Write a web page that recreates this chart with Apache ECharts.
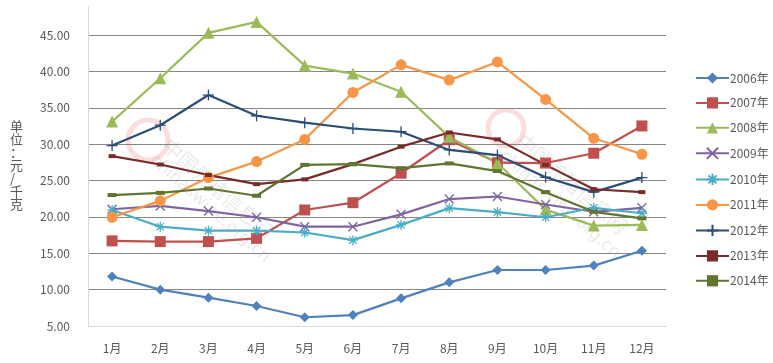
<!DOCTYPE html>
<html><head><meta charset="utf-8">
<script src="https://cdn.jsdelivr.net/npm/echarts@6/dist/echarts.min.js"></script>
<style>html,body{margin:0;padding:0;background:#fff}#c{width:773px;height:363px}</style>
</head><body><div id="c"></div>
<script>
const categories = ['1月','2月','3月','4月','5月','6月','7月','8月','9月','10月','11月','12月'];
const yTicks = [5, 10, 15, 20, 25, 30, 35, 40, 45];
const yAxisTitle = '单位：元/千克';
const names = ['2006年','2007年','2008年','2009年','2010年','2011年','2012年','2013年','2014年'];
const s2006 = [11.8, 10.0, 8.9, 7.75, 6.2, 6.5, 8.8, 11.0, 12.7, 12.7, 13.3, 15.35];
const s2007 = [16.7, 16.6, 16.6, 17.05, 20.95, 21.95, 26.0, 30.6, 27.45, 27.4, 28.75, 32.5];
const s2008 = [33.1, 39.05, 45.3, 46.8, 40.8, 39.7, 37.2, 31.0, 27.4, 21.0, 18.8, 18.9];
const s2009 = [21.05, 21.5, 20.8, 19.95, 18.65, 18.65, 20.35, 22.45, 22.8, 21.7, 20.7, 21.25];
const s2010 = [20.95, 18.65, 18.1, 18.1, 17.85, 16.8, 18.9, 21.2, 20.65, 19.95, 21.25, 20.5];
const s2011 = [19.95, 22.2, 25.4, 27.6, 30.65, 37.1, 40.9, 38.8, 41.3, 36.15, 30.8, 28.6];
const s2012 = [29.8, 32.6, 36.75, 33.9, 32.95, 32.15, 31.7, 29.2, 28.5, 25.45, 23.4, 25.4];
const s2013 = [28.35, 27.2, 25.75, 24.5, 25.15, 27.25, 29.65, 31.6, 30.65, 27.15, 23.8, 23.4];
const s2014 = [23.0, 23.3, 23.9, 22.9, 27.15, 27.25, 26.7, 27.35, 26.3, 23.4, 20.7, 19.8];
const seriesData = [s2006, s2007, s2008, s2009, s2010, s2011, s2012, s2013, s2014];

const colors = ['#4F81BD','#C0504D','#9BBB59','#8064A2','#4BACC6','#F79646','#2C4D75','#772C2A','#5F7530'];
const symbols = [
  'diamond', 'rect', 'triangle',
  'path://M0,0L10,10M10,0L0,10',
  'path://M0,0L10,10M10,0L0,10M5,-2L5,12M-2,5L12,5',
  'circle',
  'path://M5,0L5,10M0,5L10,5',
  'rect', 'rect'
];
const symbolSizes = [10, 11, 12, 9, 10, 11, 11, [7,4], [9,4]];
const emptyStroke = [false,false,false,true,true,false,true,false,false];

const chart = echarts.init(document.getElementById('c'), null, {renderer:'canvas'});
const series = names.map((n, i) => ({
  name: n, type: 'line', data: seriesData[i],
  symbol: symbols[i], symbolSize: symbolSizes[i], showAllSymbol: true,
  lineStyle: {color: colors[i], width: 2.2},
  itemStyle: emptyStroke[i] ? {color: 'rgba(0,0,0,0)', borderColor: colors[i], borderWidth: 1.3} : {color: colors[i], borderWidth: 0},
  emphasis: {disabled: true}, animation: false
}));

const wmFill = 'rgba(150,150,150,0.2)';
chart.setOption({
  animation: false,
  color: colors,
  textStyle: {fontFamily: '"Noto Sans CJK SC", "Noto Sans", sans-serif'},
  grid: {left: 88, right: 107, top: 7, bottom: 37, containLabel: false},
  legend: {
    orient: 'vertical', left: 690, top: 67, itemGap: 12.9, itemWidth: 33, itemHeight: 14,
    data: names,
    textStyle: {color: '#595959', fontSize: 12, padding: [0,0,0,-4]},
    selectedMode: false
  },
  xAxis: {
    type: 'category', data: categories, boundaryGap: true,
    axisLine: {show: true, lineStyle: {color: '#D9D9D9', width: 1}},
    axisTick: {show: false},
    axisLabel: {color: '#595959', fontSize: 12, margin: 16}
  },
  yAxis: {
    type: 'value', min: 5, max: 48.85, interval: 5,
    axisLine: {show: true, lineStyle: {color: '#D9D9D9', width: 1}},
    axisTick: {show: false},
    axisLabel: {color: '#595959', fontSize: 12, margin: 18, showMaxLabel: false,
      formatter: v => yTicks.indexOf(v) >= 0 ? v.toFixed(2) : ''},
    splitLine: {show: true, showMinLine: false, showMaxLine: false, lineStyle: {color: '#868686', width: 1}}
  },
  graphic: [
    {type: 'text', left: 10, top: 120, style: {text: yAxisTitle.split('').join('\n'), fill: '#595959', fontSize: 13, lineHeight: 12.9, fontFamily: '"Noto Sans CJK SC", sans-serif', align: 'center'}},
    {type: 'circle', shape: {cx: 148, cy: 140, r: 20}, z: -1, style: {fill: 'none', stroke: 'rgba(240,120,120,0.25)', lineWidth: 5}},
    {type: 'circle', shape: {cx: 506, cy: 128, r: 18}, z: -1, style: {fill: 'none', stroke: 'rgba(240,120,120,0.25)', lineWidth: 5}},
    {type: 'text', x: 172, y: 135, rotation: -0.72, z: -1, style: {text: '中国养猪信息网', fill: wmFill, fontSize: 20, fontFamily: '"Noto Sans CJK SC", sans-serif'}},
    {type: 'text', x: 158, y: 152, rotation: -0.72, z: -1, style: {text: 'chinaswine.org.cn', fill: wmFill, fontSize: 17, fontFamily: '"DejaVu Sans", sans-serif'}},
    {type: 'text', x: 526, y: 130, rotation: -0.72, z: -1, style: {text: '中国养猪信息网', fill: wmFill, fontSize: 20, fontFamily: '"Noto Sans CJK SC", sans-serif'}},
    {type: 'text', x: 508, y: 148, rotation: -0.72, z: -1, style: {text: 'chinaswine.org.cn', fill: wmFill, fontSize: 17, fontFamily: '"DejaVu Sans", sans-serif'}}
  ],
  series: series
});
</script></body></html>
